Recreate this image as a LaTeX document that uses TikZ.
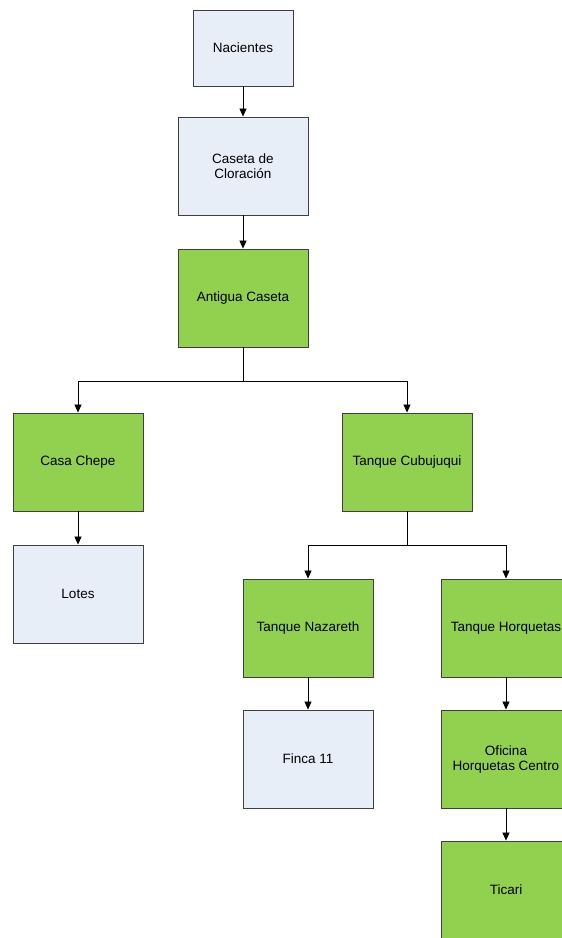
\documentclass[tikz,border=0pt]{standalone}
\usepackage{fontspec}
\setmainfont{Liberation Sans}
\usepackage{xcolor}
\usepackage{tikz}
\usetikzlibrary{arrows.meta,positioning,calc}
\definecolor{boxblue}{RGB}{232,238,247}
\definecolor{boxgreen}{RGB}{146,208,80}
\definecolor{edgegray}{RGB}{64,64,64}

\begin{document}
\begin{tikzpicture}[x=1pt,y=1pt,
  box/.style={rectangle,draw=edgegray,line width=0.9pt,minimum width=130pt,minimum height=98pt,
    align=center,inner sep=2pt,font=\fontsize{13.5}{15}\selectfont},
  blu/.style={box,fill=boxblue},
  grn/.style={box,fill=boxgreen},
  arr/.style={-{Triangle[length=8pt,width=7pt]},black,line width=0.8pt}]
  \clip (0,0) rectangle (562,-938);
  % upper chain
  \node[blu,minimum width=100pt,minimum height=76pt] (nac) at (243,-48) {Nacientes};
  \node[blu] (cas) at (243,-166) {Caseta de\\Cloración};
  \node[grn] (ant) at (243,-298) {Antigua Caseta};
  % second level
  \node[grn] (che) at (78,-462) {Casa Chepe};
  \node[grn] (cub) at (407,-462) {Tanque Cubujuqui};
  \node[blu] (lot) at (78,-594) {Lotes};
  % third level
  \node[grn] (naz) at (308,-628) {Tanque Nazareth};
  \node[grn] (hor) at (506,-628) {Tanque Horquetas};
  \node[blu] (fin) at (308,-759) {Finca 11};
  \node[grn] (ofi) at (506,-759) {Oficina\\Horquetas Centro};
  \node[grn] (tic) at (506,-890) {Ticari};
  % forks
  \coordinate (f1) at (243,-381);
  \coordinate (f2) at (407,-545);
  % connectors
  \draw[arr] (nac) -- (cas);
  \draw[arr] (cas) -- (ant);
  \draw[arr] (ant.south) -- (f1) -| (che.north);
  \draw[arr] (f1) -| (cub.north);
  \draw[arr] (che) -- (lot);
  \draw[arr] (cub.south) -- (f2) -| (naz.north);
  \draw[arr] (f2) -| (hor.north);
  \draw[arr] (naz) -- (fin);
  \draw[arr] (hor) -- (ofi);
  \draw[arr] (ofi) -- (tic);
\end{tikzpicture}
\end{document}
